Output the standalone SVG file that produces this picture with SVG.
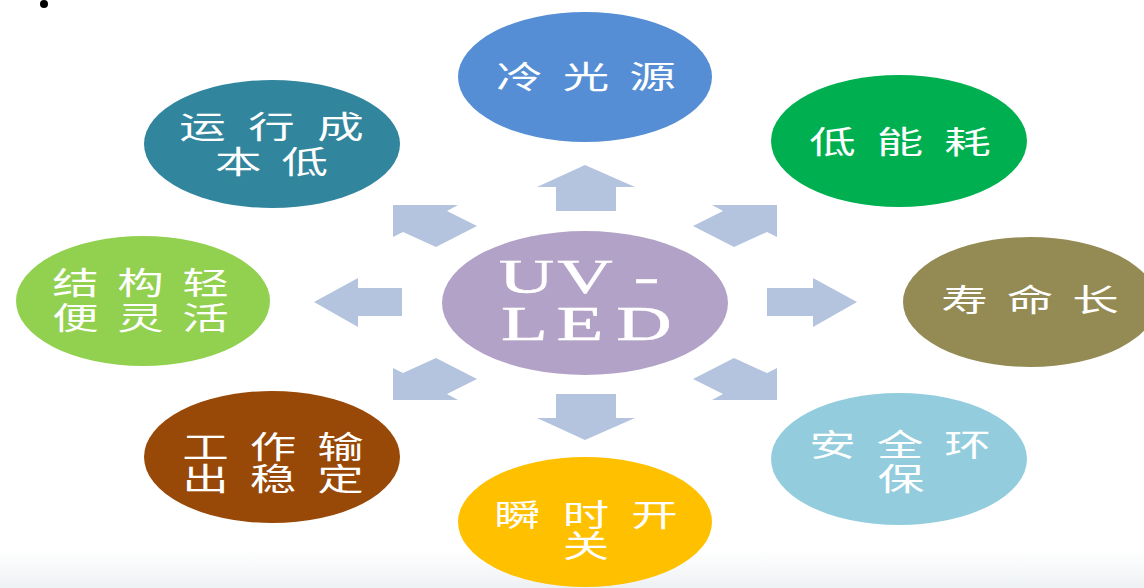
<svg xmlns="http://www.w3.org/2000/svg" width="1144" height="588" viewBox="0 0 1144 588">
<defs>
<linearGradient id="bottomFade" x1="0" y1="0" x2="0" y2="1">
<stop offset="0" stop-color="#ffffff"/>
<stop offset="1" stop-color="#eef1f4"/>
</linearGradient>
<style>
.arrow{fill:#b4c4de;}
.cjk{font-family:"Noto Sans CJK SC","Noto Sans",sans-serif;font-size:31px;fill:#ffffff;text-anchor:middle;}
.uv{font-family:"Liberation Serif","DejaVu Serif",serif;font-size:48px;fill:#ffffff;stroke:#ffffff;stroke-width:0.5px;text-anchor:middle;}
</style>
</defs>
<rect x="0" y="0" width="1144" height="588" fill="#ffffff"/>
<rect x="0" y="550" width="1144" height="38" fill="url(#bottomFade)"/>
<circle cx="44" cy="4" r="4" fill="#000000"/>

<g id="connectors">
<polygon class="arrow" points="585,165 635,187 616,187 616,211 556,211 556,187 537,187"/>
<polygon class="arrow" points="556,394 616,394 616,418 635,418 585,440 537,418 556,418"/>
<polygon class="arrow" points="314,302 358,278 358,288 402,288 402,316 358,316 358,327"/>
<polygon class="arrow" points="767,288 813,288 813,278 857,302 813,327 813,316 767,316"/>
<polygon class="arrow" points="393,205 458,205 447,211 477,226 436,247 403,232 393,237"/>
<polygon class="arrow" points="777,205 712,205 723,211 693,226 734,247 767,232 777,237"/>
<polygon class="arrow" points="393,400 458,400 447,394 477,379 436,358 403,373 393,368"/>
<polygon class="arrow" points="777,400 712,400 723,394 693,379 734,358 767,373 777,368"/>
</g>

<g id="node-center">
<ellipse cx="585" cy="303" rx="143" ry="72" fill="#b3a2c7"/>
<text class="uv" transform="scale(1.6,1)" x="329.1 365.6 404.1" y="293">UV-</text>
<text class="uv" transform="scale(1.6,1)" x="327.8 362.5 402.5" y="340">LED</text>
</g>

<g id="node-cold-light">
<ellipse cx="585" cy="77" rx="127" ry="65" fill="#558ed5"/>
<text class="cjk" transform="scale(1.5,1)" x="346.3 390.7 435" y="88">冷光源</text>
</g>

<g id="node-low-energy">
<ellipse cx="899" cy="141" rx="128" ry="66" fill="#00b050"/>
<text class="cjk" transform="scale(1.5,1)" x="555 600 645" y="153">低能耗</text>
</g>

<g id="node-long-life">
<ellipse cx="1030" cy="302" rx="127" ry="65" fill="#948a54"/>
<text class="cjk" transform="scale(1.5,1)" x="643 686.7 730.3" y="311">寿命长</text>
</g>

<g id="node-safe">
<ellipse cx="899" cy="459" rx="128" ry="66" fill="#93cddd"/>
<text class="cjk" transform="scale(1.5,1)" x="555 600 645" y="456">安全环</text>
<text class="cjk" transform="scale(1.5,1)" x="600.7" y="490">保</text>
</g>

<g id="node-instant">
<ellipse cx="585" cy="522" rx="127" ry="65" fill="#ffc000"/>
<text class="cjk" transform="scale(1.5,1)" x="345 390.7 436.3" y="526">瞬时开</text>
<text class="cjk" transform="scale(1.5,1)" x="390.7" y="557">关</text>
</g>

<g id="node-stable">
<ellipse cx="272" cy="457" rx="128" ry="66" fill="#984807"/>
<text class="cjk" transform="scale(1.5,1)" x="137 182 227" y="458">工作输</text>
<text class="cjk" transform="scale(1.5,1)" x="137 182 227" y="490">出稳定</text>
</g>

<g id="node-light-structure">
<ellipse cx="143" cy="301" rx="127" ry="65" fill="#92d050"/>
<text class="cjk" transform="scale(1.5,1)" x="50.3 93.7 137" y="294">结构轻</text>
<text class="cjk" transform="scale(1.5,1)" x="50.3 93.7 137" y="329">便灵活</text>
</g>

<g id="node-low-cost">
<ellipse cx="272" cy="144" rx="128" ry="64" fill="#31859c"/>
<text class="cjk" transform="scale(1.5,1)" x="135 181 227" y="138">运行成</text>
<text class="cjk" transform="scale(1.5,1)" x="158.8 203.2" y="173">本低</text>
</g>
</svg>
